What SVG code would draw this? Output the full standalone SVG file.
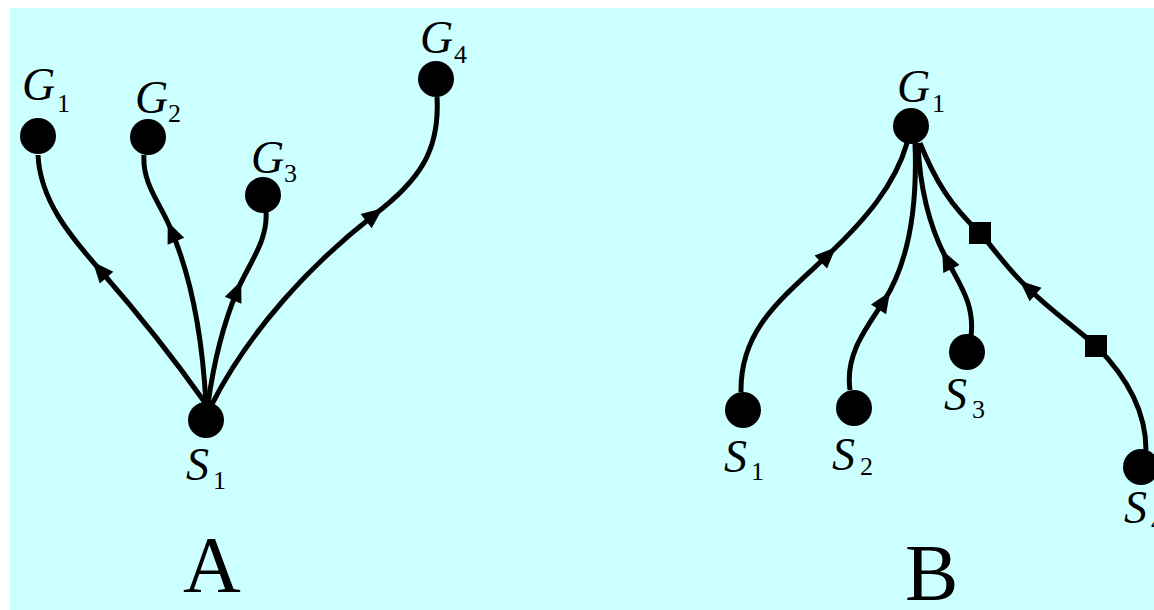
<svg xmlns="http://www.w3.org/2000/svg" xmlns:xlink="http://www.w3.org/1999/xlink" width="1154" height="610" viewBox="0 0 1154 610">
<style>
.edge{fill:none;stroke:#000;stroke-width:5}
.node{fill:#000}
.lbl{font-family:"Liberation Serif","Times New Roman",serif;font-style:italic;font-size:46px;fill:#000}
.sub{font-family:"Liberation Serif","Times New Roman",serif;font-size:26px;fill:#000}
.big{font-family:"Liberation Serif","Times New Roman",serif;font-size:80px;fill:#000}
</style>
<defs>
<path id="ah" d="M11,0 L-10,-9 L-10,9 Z" fill="#000"/>
</defs>
<rect x="0" y="0" width="1154" height="610" fill="#fff"/>
<rect x="10" y="8" width="1144" height="602" fill="#ccffff"/>
<g id="connectors">
<path class="edge" d="M206,404 C175,360 135,310 100,270 C70,236 40,200 38,155"/>
<path class="edge" d="M206,404 C202,330 190,275 172,232 C162,205 142,185 144,155"/>
<path class="edge" d="M208,404 C214,360 225,320 237,291 C250,262 268,240 266,212"/>
<path class="edge" d="M212,404 C250,330 310,265 374,215 C420,180 440,150 437,97"/>
<path class="edge" d="M741,392 C740,330 780,300 828,255 C865,220 895,185 907,143"/>
<path class="edge" d="M850,390 C845,355 865,330 884,301 C905,268 918,220 915,143"/>
<path class="edge" d="M971,336 C975,305 960,285 947,260 C932,232 920,195 918,143"/>
<path class="edge" d="M920,143 C935,180 950,205 980,233 C995,250 1010,272 1028,288 C1050,310 1075,327 1096,346 C1125,375 1146,410 1146,450"/>
<use xlink:href="#ah" transform="translate(100,270) rotate(-131)"/>
<use xlink:href="#ah" transform="translate(172,232) rotate(-113)"/>
<use xlink:href="#ah" transform="translate(237,291) rotate(-67)"/>
<use xlink:href="#ah" transform="translate(374,215) rotate(-38)"/>
<use xlink:href="#ah" transform="translate(828,255) rotate(-44)"/>
<use xlink:href="#ah" transform="translate(884,301) rotate(-57)"/>
<use xlink:href="#ah" transform="translate(947,260) rotate(-116)"/>
<use xlink:href="#ah" transform="translate(1028,288) rotate(-139)"/>
<rect class="node" x="969" y="222" width="22" height="22"/>
<rect class="node" x="1085" y="335" width="22" height="22"/>
</g>
<g id="A-G1"><circle class="node" cx="38" cy="136" r="18"/><text class="lbl" x="22" y="100">G</text><text class="sub" x="57" y="112">1</text></g>
<g id="A-G2"><circle class="node" cx="148" cy="137" r="18"/><text class="lbl" x="135" y="113">G</text><text class="sub" x="168" y="122">2</text></g>
<g id="A-G3"><circle class="node" cx="263" cy="195" r="18"/><text class="lbl" x="251" y="173">G</text><text class="sub" x="284" y="182">3</text></g>
<g id="A-G4"><circle class="node" cx="436" cy="79" r="18"/><text class="lbl" x="420" y="53">G</text><text class="sub" x="454" y="63">4</text></g>
<g id="A-S1"><circle class="node" cx="206" cy="420" r="18"/><text class="lbl" x="186" y="480">S</text><text class="sub" x="213" y="489">1</text></g>
<g id="B-G1"><circle class="node" cx="911" cy="126" r="18"/><text class="lbl" x="897" y="102">G</text><text class="sub" x="932" y="112">1</text></g>
<g id="B-S1"><circle class="node" cx="743" cy="410" r="18"/><text class="lbl" x="724" y="472">S</text><text class="sub" x="751" y="480">1</text></g>
<g id="B-S2"><circle class="node" cx="854" cy="408" r="18"/><text class="lbl" x="832" y="470">S</text><text class="sub" x="860" y="475">2</text></g>
<g id="B-S3"><circle class="node" cx="967" cy="352" r="18"/><text class="lbl" x="944" y="410">S</text><text class="sub" x="972" y="418">3</text></g>
<g id="B-S4"><circle class="node" cx="1141" cy="467" r="18"/><text class="lbl" x="1124" y="523">S</text><text class="sub" x="1151" y="531">4</text></g>
<text class="big" x="183" y="592">A</text>
<text class="big" x="905" y="600">B</text>
</svg>
